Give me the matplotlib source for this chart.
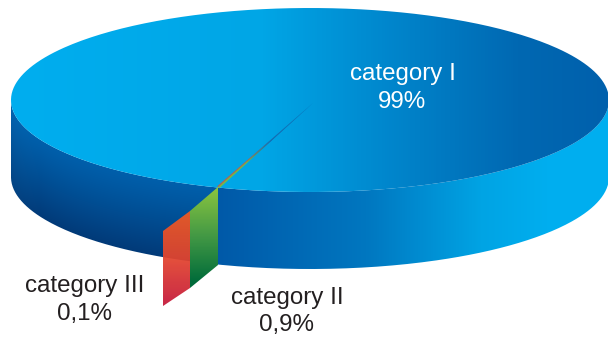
import numpy as np
import matplotlib
matplotlib.use("Agg")
import matplotlib.pyplot as plt
from matplotlib.colors import LinearSegmentedColormap, to_rgb
from matplotlib.path import Path
from matplotlib.patches import PathPatch

# chart data
categories = ["category I", "category II", "category III"]
values = [99, 0.9, 0.1]
value_labels = ["99%", "0,9%", "0,1%"]

plt.rcParams['font.family'] = ['Liberation Sans', 'DejaVu Sans']

W, H = 608, 339
cx, cy, rx, ry = 310, 100, 299, 92
depth = 77

fig = plt.figure(figsize=(W / 100, H / 100), dpi=100)
ax = fig.add_axes([0, 0, 1, 1])
ax.set_xlim(0, W)
ax.set_ylim(H, 0)
ax.axis("off")

X, Y = np.meshgrid(np.arange(W) + 0.5, np.arange(H) + 0.5)


def rim_y(x):
    return cy + ry * np.sqrt(np.clip(1 - ((x - cx) / rx) ** 2, 0, 1))


def stops(*pairs):
    return LinearSegmentedColormap.from_list("g", list(pairs))


def paint(rgb, verts, zorder, alpha=None):
    # image clipped to a polygon
    im = ax.imshow(rgb, extent=(0, W, H, 0), zorder=zorder, alpha=alpha, aspect="auto", interpolation="bilinear")
    patch = PathPatch(Path(verts), transform=ax.transData, fc="none", ec="none")
    ax.add_patch(patch)
    im.set_clip_path(patch)


# side of the disc
t = np.linspace(0, np.pi, 300)
side = np.vstack([
    np.c_[cx + rx * np.cos(t), cy + ry * np.sin(t) + depth],
    np.c_[cx + rx * np.cos(t[::-1]), cy + ry * np.sin(t[::-1])],
])
u = np.clip((X - cx + rx) / (2 * rx), 0, 1)
v = np.clip((Y - rim_y(X)) / depth, 0, 1)
right_cm = stops((0, "#0059A8"), (0.45, "#0077C0"), (0.8, "#00A4E4"), (1, "#00AEEF"))
right_rgb = right_cm(np.clip((X - 218) / 330, 0, 1))[..., :3]
left_top = np.array(to_rgb("#005FAB"))
left_bot = np.array(to_rgb("#023A78"))
left_rgb = left_top + (left_bot - left_top) * (v[..., None] ** 1.1)
# the left part brightens a little towards the edge of the disc
edge = np.clip((40 - X) / 30, 0, 1)[..., None]
left_rgb = left_rgb + (np.array(to_rgb("#0F7CC4")) - left_rgb) * edge * 0.15
blend = np.clip((X - 205) / 14, 0, 1)[..., None]
paint(left_rgb * (1 - blend) + right_rgb * blend, side, 1)

# top of the disc
top_cm = stops((0, "#00AEEF"), (0.42, "#00A6E6"), (0.62, "#0088CE"), (0.85, "#0068B2"), (1, "#0060AC"))
top_rgb = top_cm(u)[..., :3]
a = np.linspace(0, 2 * np.pi, 400)
paint(top_rgb, np.c_[cx + rx * np.cos(a), cy + ry * np.sin(a)], 2)

# the two small categories, faces hanging off the rim
green = stops((0, "#8CC63F"), (0.5, "#459A45"), (1, "#006B3A"))
green_rgb = green(np.clip((Y - 187) / 95, 0, 1))[..., :3]
paint(green_rgb, [(218, 187), (190, 211), (190, 288), (218, 265)], 3)
red = stops((0, "#F05A22"), (0.5, "#E2442F"), (1, "#C4183A"))
red_rgb = red(np.clip((Y - 212) / 94, 0, 1))[..., :3]
paint(red_rgb, [(190, 211), (163, 231), (163, 306), (190, 288)], 3, alpha=0.94)

# slivers on the top face, sweep scaled down from the pie share
apex = np.array([313.0, 103.0])
rim = np.array([218.0, 187.0])
direction = np.arctan2(*(rim - apex)[::-1])
reach = np.hypot(*(rim - apex))
along = np.clip((apex[0] - X) / (apex[0] - rim[0]), 0, 1)
for val, col, sgn in zip(values[1:], ["#7DB840", "#DC5530"], [-1, 1]):
    sweep = np.radians(max(val, 0.5) / 100 * 360) * 0.25
    tip = apex + reach * np.array([np.cos(direction + sgn * sweep), np.sin(direction + sgn * sweep)])
    sliver_cm = stops((0, "#0F5FA8"), (0.45, "#1A62A8"), (0.7, col), (1, col))
    paint(sliver_cm(along)[..., :3], [apex, rim, tip], 4)

# labels
txt = "#231F20"
fs = 17.4
label_pos = [(403, 74), (287, 298), (85, 286)]
value_pos = [(402, 102), (287, 325), (85, 314)]
for name, val, lp, vp in zip(categories, value_labels, label_pos, value_pos):
    col = "#FFFFFF" if name == categories[0] else txt
    ax.text(*lp, name, ha="center", va="center", fontsize=fs, color=col, zorder=6)
    ax.text(*vp, val, ha="center", va="center", fontsize=fs, color=col, zorder=6)

fig.savefig("out.png", dpi=100)
